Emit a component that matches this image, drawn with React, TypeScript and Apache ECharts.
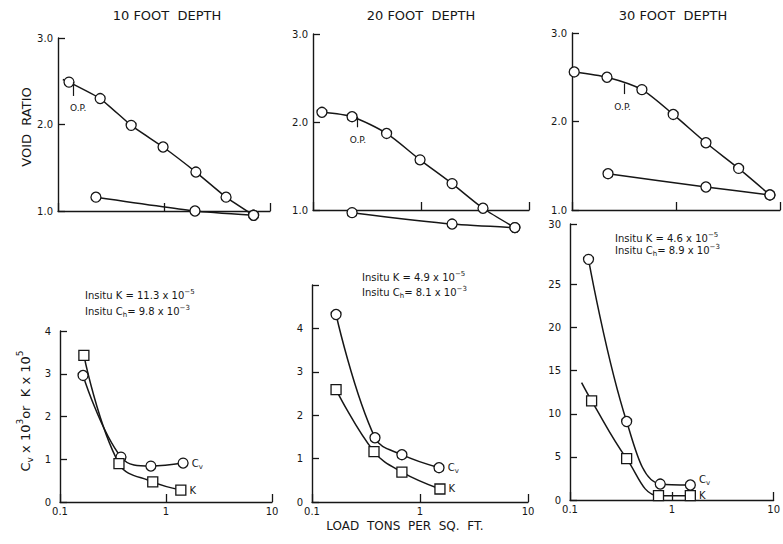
import React, { useEffect, useRef } from 'react';
import * as echarts from 'echarts';

// ---------- DATA ----------
const depthTitles = ['10 FOOT  DEPTH', '20 FOOT  DEPTH', '30 FOOT  DEPTH'];

// Void ratio vs load (tons / sq ft) — loading branch
const load10: number[][] = [[0.127, 2.49], [0.25, 2.3], [0.49, 1.99], [0.98, 1.74], [2.0, 1.45], [3.85, 1.16], [7.0, 0.95]];
const lead10: number[] = [0.111, 2.52];
const rebound10: number[][] = [[0.228, 1.16], [1.96, 1.0], [7.0, 0.95]];

const load20: number[][] = [[0.121, 2.11], [0.23, 2.06], [0.48, 1.87], [0.98, 1.57], [1.94, 1.3], [3.75, 1.02], [7.4, 0.8]];
const rebound20: number[][] = [[0.23, 0.97], [1.94, 0.84], [7.4, 0.8]];

const load30: number[][] = [[0.105, 2.56], [0.217, 2.5], [0.47, 2.36], [0.94, 2.08], [1.94, 1.76], [4.0, 1.47], [8.0, 1.17]];
const rebound30: number[][] = [[0.222, 1.41], [1.94, 1.26], [8.0, 1.17]];

// O.P. markers: [load, top, bottom]
const op10 = [0.139, 2.49, 2.33];
const op20 = [0.255, 2.06, 1.94];
const op30 = [0.32, 2.43, 2.31];

// Cv x 10^3 and K x 10^5 vs load
const cv10: number[][] = [[0.165, 2.96], [0.376, 1.05], [0.72, 0.84], [1.45, 0.91]];
const k10: number[][] = [[0.168, 3.43], [0.36, 0.9], [0.75, 0.47], [1.38, 0.28]];

const cv20: number[][] = [[0.167, 4.32], [0.383, 1.48], [0.68, 1.09], [1.5, 0.79]];
const k20: number[][] = [[0.167, 2.59], [0.375, 1.16], [0.68, 0.69], [1.53, 0.3]];

const cv30: number[][] = [[0.152, 27.9], [0.36, 9.1], [0.77, 1.85], [1.52, 1.74]];
const k30: number[][] = [[0.163, 11.5], [0.36, 4.8], [0.74, 0.5], [1.52, 0.5]];
const leadK30: number[] = [0.13, 13.6];

const insitu = [
  { k: '11.3', ch: '9.8' },
  { k: '4.9', ch: '8.1' },
  { k: '4.6', ch: '8.9' },
];
const xTickLabels: Record<string, string> = { '0.1': '0.1', '1': '1', '10': '10' };
const cv30TickValues = [0, 5, 10, 15, 20, 25, 32];
const cv30TickLabels = ['0', '5', '10', '15', '20', '25', '30'];

// ---------- STYLE ----------
const INK = '#161616';
const FONT = '"DejaVu Sans", "Liberation Sans", sans-serif';

const rich = {
  n: { fontSize: 10, lineHeight: 14, fontFamily: FONT, color: INK },
  sup: { fontSize: 7, lineHeight: 7, verticalAlign: 'top', fontFamily: FONT, color: INK },
  sub: { fontSize: 7, lineHeight: 7, verticalAlign: 'bottom', fontFamily: FONT, color: INK },
  N: { fontSize: 13, lineHeight: 19, fontFamily: FONT, color: INK },
  SUP: { fontSize: 9, lineHeight: 9, verticalAlign: 'top', fontFamily: FONT, color: INK },
  SUB: { fontSize: 9, lineHeight: 9, verticalAlign: 'bottom', fontFamily: FONT, color: INK },
};

function curve(idx: number, pts: number[][], symbol: string, opts: any = {}) {
  const data: any[] = [];
  if (opts.lead) data.push({ value: opts.lead, symbol: 'none' });
  pts.forEach((p, i) => {
    const item: any = { value: p };
    if (opts.endLabel && i === pts.length - 1) {
      item.label = {
        show: true,
        position: 'right',
        distance: 3,
        offset: opts.labelOffset || [0, 0],
        formatter: opts.endLabel,
        rich,
      };
    }
    data.push(item);
  });
  const s: any = {
    type: 'line',
    xAxisIndex: idx,
    yAxisIndex: idx,
    data,
    smooth: opts.smooth ?? 0.3,
    symbol,
    symbolSize: 10,
    clip: false,
    lineStyle: { color: INK, width: 1.5 },
    itemStyle: { color: '#fff', borderColor: INK, borderWidth: 1.3 },
    emphasis: { disabled: true },
  };
  if (opts.op) {
    const [x, y1, y2] = opts.op;
    s.markLine = {
      silent: true,
      symbol: 'none',
      animation: false,
      lineStyle: { color: INK, width: 1.2, type: 'solid' },
      label: { show: true, position: 'end', formatter: 'O.P.', color: INK, fontSize: 9, fontFamily: FONT, distance: 2, offset: opts.opOffset || [0, 6] },
      data: [[{ coord: [x, y1] }, { coord: [x, y2] }]],
    };
  }
  return s;
}

const grids = [
  { left: 58, top: 38, width: 212, height: 173 },
  { left: 313, top: 34, width: 216, height: 176 },
  { left: 572, top: 33, width: 208, height: 177 },
  { left: 60, top: 331, width: 212, height: 171 },
  { left: 312, top: 285, width: 216, height: 217 },
  { left: 570, top: 224, width: 210, height: 276 },
];

function xAxis(i: number, showLabels: boolean) {
  return {
    type: 'log',
    logBase: 10,
    gridIndex: i,
    min: 0.1,
    max: 10,
    axisLine: { show: true, lineStyle: { color: INK, width: 1.4 } },
    axisTick: { show: true, inside: true, length: 8, lineStyle: { color: INK, width: 1.3 } },
    minorTick: { show: false },
    splitLine: { show: false },
    axisLabel: {
      show: showLabels,
      color: INK,
      fontSize: 10,
      fontFamily: FONT,
      margin: 4,
      formatter: (v: number) => xTickLabels[String(+v.toPrecision(3))] ?? '',
    },
  };
}

function yAxis(i: number, min: number, max: number, interval: number, fmt: (v: number) => string, extra: any = {}) {
  return {
    type: 'value',
    gridIndex: i,
    min,
    max,
    interval,
    axisLine: { show: true, lineStyle: { color: INK, width: 1.4 } },
    axisTick: { show: true, inside: true, length: 7, lineStyle: { color: INK, width: 1.3 }, ...(extra.tick || {}) },
    splitLine: { show: false },
    axisLabel: { color: INK, fontSize: 10, fontFamily: FONT, margin: extra.margin ?? 5, formatter: fmt, ...(extra.label || {}) },
  };
}

function insituText(left: number, topK: number, topCh: number, d: { k: string; ch: string }) {
  return [
    {
      type: 'text',
      left,
      top: topK - 7,
      style: { text: `{n|Insitu K = ${d.k} x 10}{sup|−5}`, rich, fill: INK },
    },
    {
      type: 'text',
      left,
      top: topCh - 7,
      style: { text: `{n|Insitu C}{sub|h}{n|= ${d.ch} x 10}{sup|−3}`, rich, fill: INK },
    },
  ];
}

export default function App() {
  const ref = useRef<HTMLDivElement>(null);
  useEffect(() => {
    document.body.style.margin = '0';
    if (!ref.current) return;
    const chart = echarts.init(ref.current, undefined, { renderer: 'svg' });
    const titleCenters = [167, 421, 673];
    const option: any = {
      animation: false,
      backgroundColor: '#fff',
      textStyle: { fontFamily: FONT },
      grid: grids,
      xAxis: [xAxis(0, false), xAxis(1, false), xAxis(2, false), xAxis(3, true), xAxis(4, true), xAxis(5, true)],
      yAxis: [
        yAxis(0, 1, 3, 1, (v) => v.toFixed(1)),
        yAxis(1, 1, 3, 1, (v) => v.toFixed(1)),
        yAxis(2, 1, 3, 1, (v) => v.toFixed(1)),
        yAxis(3, 0, 4, 1, (v) => String(v), { margin: 9 }),
        yAxis(4, 0, 5, 1, (v) => (v === 5 ? '' : String(v)), { margin: 9 }),
        yAxis(5, 0, 32, 5, (v) => cv30TickLabels[cv30TickValues.indexOf(v)] ?? '', {
          margin: 9,
          tick: { customValues: cv30TickValues },
          label: { customValues: cv30TickValues },
        }),
      ],
      series: [
        curve(0, load10, 'circle', { lead: lead10, op: op10, opOffset: [5, 6], smooth: 0.15 }),
        curve(0, rebound10, 'circle', { smooth: 0.15 }),
        curve(1, load20, 'circle', { op: op20, opOffset: [1, 6], smooth: 0.25 }),
        curve(1, rebound20, 'circle', { smooth: 0.25 }),
        curve(2, load30, 'circle', { op: op30, opOffset: [-2, 6], smooth: 0.25 }),
        curve(2, rebound30, 'circle', { smooth: 0.2 }),
        curve(3, cv10, 'circle', { endLabel: '{n|C}{sub|v}', smooth: 0.4 }),
        curve(3, k10, 'rect', { endLabel: '{n|K}', smooth: 0.4 }),
        curve(4, cv20, 'circle', { endLabel: '{n|C}{sub|v}', smooth: 0.4 }),
        curve(4, k20, 'rect', { endLabel: '{n|K}', smooth: 0.4 }),
        curve(5, cv30, 'circle', { endLabel: '{n|C}{sub|v}', labelOffset: [0, -5], smooth: 0.4 }),
        curve(5, k30, 'rect', { endLabel: '{n|K}', lead: leadK30, smooth: 0.4 }),
      ],
      graphic: [
        ...depthTitles.map((t, i) => ({
          type: 'text',
          x: titleCenters[i],
          y: 15,
          style: { text: t, fill: INK, font: `13px ${FONT}`, textAlign: 'center', textVerticalAlign: 'middle' },
        })),
        {
          type: 'text',
          x: 26,
          y: 127,
          rotation: Math.PI / 2,
          style: { text: 'VOID  RATIO', fill: INK, font: `13px ${FONT}`, textAlign: 'center', textVerticalAlign: 'middle' },
        },
        {
          type: 'text',
          x: 25,
          y: 411,
          rotation: Math.PI / 2,
          style: {
            text: '{N|C}{SUB|v}{N| x 10}{SUP|3}{N|or  K x 10}{SUP|5}',
            rich,
            fill: INK,
            textAlign: 'center',
            textVerticalAlign: 'middle',
          },
        },
        {
          type: 'text',
          x: 405,
          y: 526,
          style: { text: 'LOAD  TONS  PER  SQ.  FT.', fill: INK, font: `12px ${FONT}`, textAlign: 'center', textVerticalAlign: 'middle' },
        },
        ...insituText(85, 295, 311, insitu[0]),
        ...insituText(362, 277, 292, insitu[1]),
        ...insituText(615, 238, 250, insitu[2]),
      ],
    };
    chart.setOption(option);
    return () => chart.dispose();
  }, []);
  return <div ref={ref} style={{ width: 783, height: 544 }} />;
}
